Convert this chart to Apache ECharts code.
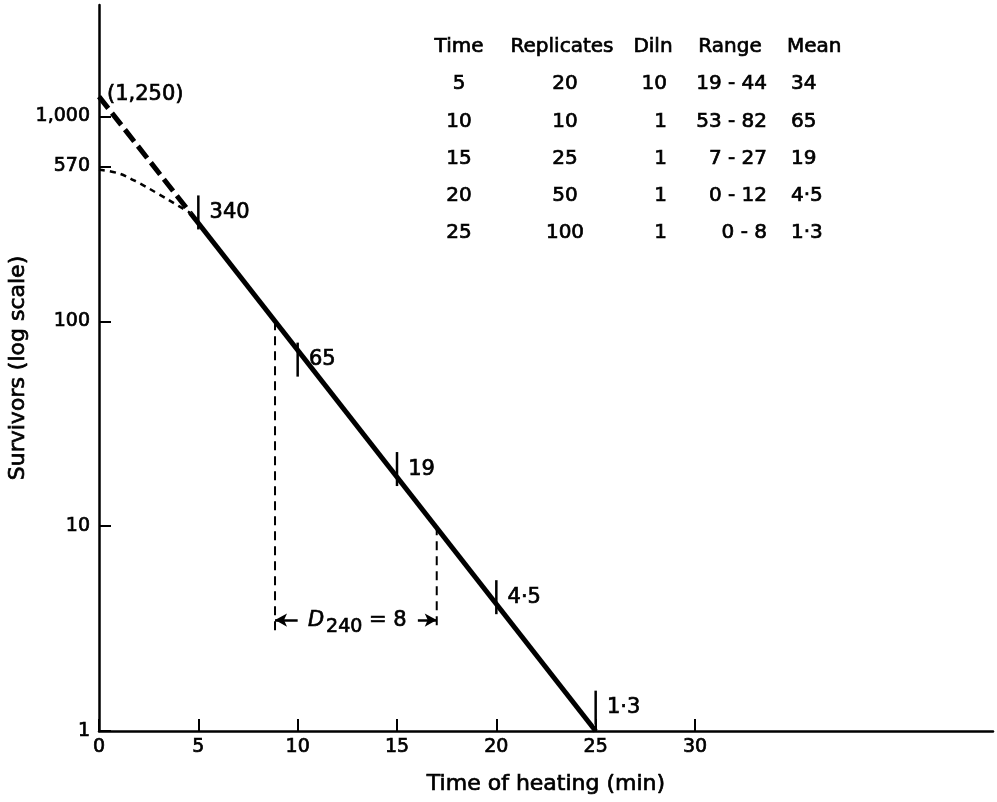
<!DOCTYPE html>
<html><head><meta charset="utf-8">
<script src="https://cdn.jsdelivr.net/npm/echarts@6/dist/echarts.min.js"></script>
<style>html,body{margin:0;padding:0;background:#fff}#c{width:997px;height:802px}</style>
</head><body><div id="c"></div>
<script>
// ---- data ----
const tableHeaders = ['Time', 'Replicates', 'Diln', 'Range', 'Mean'];
const times = [5, 10, 15, 20, 25];
const replicates = [20, 10, 25, 50, 100];
const dilutions = [10, 1, 1, 1, 1];
const ranges = ['19 - 44', '53 - 82', '7 - 27', '0 - 12', '0 - 8'];
const meanLabels = ['34', '65', '19', '4·5', '1·3'];
const survivors = [340, 65, 19, 4.5, 1.3];            // plotted counts (mean × dilution)
const survivorLabels = ['340', '65', '19', '4·5', '1·3'];
const extrapolated = [[0, 1250], [4.6, 338]];          // dashed back-extrapolation
const extrapolatedLabel = '(1,250)';
const fitted = [[4.6, 338], [25, 1]];                  // solid survivor line
const shoulder = [[0, 550], [1, 527], [2, 474], [3, 418], [4, 366], [4.6, 338]];
const dropLeft = [[8.86, 100], [8.86, 3.1]];
const dropRight = [[17.0, 10], [17.0, 3.15]];
const dArrows = [[[10.0, 3.48], [8.86, 3.48]], [[16.05, 3.48], [17.0, 3.48]]];
const dLabelPoint = [13.0, 3.48];
const xTicks = [0, 5, 10, 15, 20, 25, 30];
const yTicks = [1, 10, 100, 570, 1000];

// ---- chart ----
const FONT = 'DejaVu Sans';
const black = '#000';
const HEAVY = { textBorderColor: black, textBorderWidth: 0.7 };
const chart = echarts.init(document.getElementById('c'), null, { renderer: 'canvas' });

const headerPos = [[459, 'center'], [562, 'center'], [653, 'center'], [730, 'center'], [787, 'left']];
const cellPos = [[459, 'center'], [565, 'center'], [667, 'right'], [767, 'right'], [791, 'left']];
const rowY0 = 47, rowStep = 37.2;
const graphics = [];
function txt(s, x, y, align) {
  graphics.push({
    type: 'text', x: x, y: y, silent: true,
    style: { text: s, font: '20px "' + FONT + '"', fill: black, stroke: black, lineWidth: 0.7,
             align: align, textAlign: align, verticalAlign: 'middle', textVerticalAlign: 'middle' }
  });
}
tableHeaders.forEach((h, i) => txt(h, headerPos[i][0], rowY0, headerPos[i][1]));
times.forEach((t, r) => {
  const row = [String(t), String(replicates[r]), String(dilutions[r]), ranges[r], meanLabels[r]];
  row.forEach((v, i) => txt(v, cellPos[i][0], rowY0 + (r + 1) * rowStep, cellPos[i][1]));
});

const option = {
  animation: false,
  backgroundColor: '#fff',
  textStyle: { fontFamily: FONT, color: black },
  grid: { left: 99, right: 4, top: 5, bottom: 71, containLabel: false, outerBoundsMode: 'none' },
  xAxis: {
    type: 'value', min: 0, max: 45,
    name: 'Time of heating (min)', nameLocation: 'middle', nameGap: 42, nameMoveOverlap: false,
    nameTextStyle: Object.assign({ fontSize: 22, color: black, fontFamily: FONT }, HEAVY),
    axisLine: { onZero: false, lineStyle: { color: black, width: 2.5 } },
    axisTick: { inside: true, length: 12, customValues: xTicks, lineStyle: { color: black, width: 2 } },
    axisLabel: Object.assign({ customValues: xTicks, fontSize: 19, color: black, margin: 7, fontFamily: FONT }, HEAVY),
    splitLine: { show: false }
  },
  yAxis: {
    type: 'log', logBase: 10, min: 1, max: 3500,
    name: 'Survivors (log scale)', nameLocation: 'middle', nameGap: 70, nameRotate: 90, nameMoveOverlap: false,
    nameTextStyle: Object.assign({ fontSize: 22, color: black, fontFamily: FONT }, HEAVY),
    axisLine: { onZero: false, lineStyle: { color: black, width: 2.5 } },
    axisTick: { inside: true, length: 12, customValues: yTicks, lineStyle: { color: black, width: 2 } },
    axisLabel: Object.assign({ customValues: yTicks, fontSize: 19, color: black, margin: 9, fontFamily: FONT,
      formatter: v => v >= 1000 ? echarts.format.addCommas(v) : String(v) }, HEAVY),
    splitLine: { show: false }, minorTick: { show: false }
  },
  graphic: graphics,
  series: [
    { type: 'line', data: shoulder, smooth: 0.35, symbol: 'none', silent: true,
      lineStyle: { color: black, width: 2.5, type: [6, 5] } },
    { type: 'line', data: extrapolated, symbol: 'none', silent: true,
      lineStyle: { color: black, width: 5, type: [15, 6] } },
    { type: 'line', data: fitted, symbol: 'none', silent: true,
      lineStyle: { color: black, width: 5 } },
    { type: 'line', data: dropLeft, symbol: 'none', silent: true,
      lineStyle: { color: black, width: 2, type: [9, 6] } },
    { type: 'line', data: dropRight, symbol: 'none', silent: true,
      lineStyle: { color: black, width: 2, type: [9, 6] } },
    { type: 'scatter', data: times.map((t, i) => [t, survivors[i]]), symbol: 'rect', symbolSize: [2.5, 34],
      itemStyle: { color: black, opacity: 1 }, silent: true,
      label: Object.assign({ show: true, position: 'right', distance: 10, fontSize: 21, color: black, opacity: 1,
               fontFamily: FONT, formatter: p => survivorLabels[p.dataIndex] }, HEAVY) },
    { type: 'line', data: [], silent: true,
      markLine: { silent: true, symbol: ['none', 'arrow'], symbolSize: [10, 12], label: { show: false },
        lineStyle: { color: black, width: 2.5, type: 'solid' },
        data: dArrows.map(a => [{ coord: a[0] }, { coord: a[1] }]) } },
    { type: 'scatter', data: [dLabelPoint], symbolSize: 0, silent: true, itemStyle: { opacity: 1 },
      label: { show: true, position: 'inside', color: black, opacity: 1,
        formatter: '{d|D}{s|240}{e| = 8}',
        rich: {
          d: Object.assign({ fontSize: 21, fontStyle: 'italic', fontFamily: FONT, color: black }, HEAVY),
          s: Object.assign({ fontSize: 19, fontFamily: FONT, color: black, padding: [15, 0, 0, 2] }, HEAVY),
          e: Object.assign({ fontSize: 21, fontFamily: FONT, color: black }, HEAVY)
        } } },
    { type: 'scatter', data: [extrapolated[0]], symbolSize: 0, silent: true, itemStyle: { opacity: 1 },
      label: Object.assign({ show: true, position: 'right', distance: 8, offset: [0, -2], fontSize: 21, color: black,
               opacity: 1, fontFamily: FONT, formatter: extrapolatedLabel }, HEAVY) }
  ]
};
chart.setOption(option);
</script></body></html>
